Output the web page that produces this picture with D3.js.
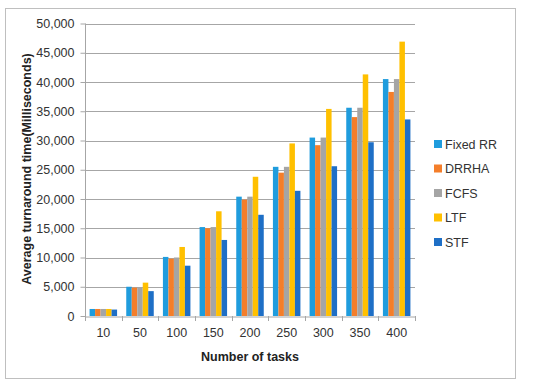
<!DOCTYPE html>
<html><head><meta charset="utf-8">
<script src="https://cdn.jsdelivr.net/npm/d3@7"></script>
<style>body{margin:0;background:#fff}svg{display:block}text{font-family:"Liberation Sans",Arial,sans-serif}</style>
</head><body>
<svg id="c" width="550" height="387"></svg>
<script>
const categories = ["10","50","100","150","200","250","300","350","400"];
const seriesNames = ["Fixed RR","DRRHA","FCFS","LTF","STF"];
const fixedRR = [1200,5000,10100,15200,20400,25500,30500,35600,40500];
const drrha   = [1200,4850,9800,15000,19900,24500,29200,34000,38300];
const fcfs    = [1200,4950,10000,15200,20400,25500,30500,35600,40500];
const ltf     = [1200,5700,11800,17900,23800,29500,35400,41300,46900];
const stf     = [1100,4250,8600,13000,17300,21400,25600,29700,33600];
const yTicks  = [0,5000,10000,15000,20000,25000,30000,35000,40000,45000,50000];
const colors  = ["#1F9CDD","#F47E2A","#A5A5A5","#FFC000","#1E6FC6"];
const series = [fixedRR, drrha, fcfs, ltf, stf];

const svg = d3.select("#c");
svg.append("rect").attr("x",5.5).attr("y",8.5).attr("width",510).attr("height",370)
  .attr("fill","#fff").attr("stroke","#BFBFBF").attr("stroke-width",1);

const m = {l:85, r:415, t:23.5, b:316};
const x0 = d3.scaleBand().domain(categories).range([m.l,m.r]).paddingInner(0.25).paddingOuter(0.125);
const x1 = d3.scaleBand().domain(seriesNames).range([0,x0.bandwidth()]);
const y = d3.scaleLinear().domain([0,50000]).range([m.b,m.t]);

// gridlines
svg.append("g").selectAll("line").data(yTicks.slice(1)).join("line")
  .attr("x1",m.l).attr("x2",m.r).attr("y1",d=>Math.round(y(d))+0.5).attr("y2",d=>Math.round(y(d))+0.5)
  .attr("stroke","#A6A6A6").attr("stroke-width",1);

// y axis
const ya = svg.append("g").attr("transform",`translate(${m.l+0.5},0)`)
  .call(d3.axisLeft(y).tickValues(yTicks).tickSize(5).tickPadding(6).tickFormat(d3.format(",")));
ya.select(".domain").attr("stroke","#A6A6A6").attr("d",`M0,${m.t}V${m.b}`);
ya.selectAll(".tick line").attr("stroke","#A6A6A6");
ya.selectAll(".tick text").attr("font-size",12.5).attr("fill","#333");

// bars
const g = svg.append("g");
categories.forEach((c,i)=>{
  series.forEach((s,j)=>{
    g.append("rect").attr("x",x0(c)+x1(seriesNames[j])).attr("width",x1.bandwidth())
     .attr("y",y(s[i])).attr("height",y(0)-y(s[i])).attr("fill",colors[j]);
  });
});

// x axis
const xa = svg.append("g").attr("transform",`translate(0,${m.b+0.5})`)
  .call(d3.axisBottom(x0).tickSize(0).tickPadding(12));
xa.select(".domain").attr("stroke","#A6A6A6");
xa.selectAll(".tick text").attr("font-size",12.5).attr("fill","#333");
const bounds = categories.map(c=>x0(c)-x0.step()*x0.paddingInner()/2).concat([m.r]);
svg.append("g").selectAll("line").data(bounds).join("line")
  .attr("x1",d=>Math.round(d)+0.5).attr("x2",d=>Math.round(d)+0.5).attr("y1",m.b).attr("y2",m.b+5)
  .attr("stroke","#A6A6A6");

// titles
svg.append("text").attr("x",250).attr("y",361).attr("text-anchor","middle")
  .attr("font-size",12.5).attr("font-weight","bold").attr("fill","#222").text("Number of tasks");
svg.append("text").attr("transform","translate(31,169) rotate(-90)").attr("text-anchor","middle")
  .attr("font-size",12.5).attr("font-weight","bold").attr("fill","#222").text("Average turnaround time(Milliseconds)");

// legend
const lg = svg.append("g");
seriesNames.forEach((n,j)=>{
  const yy = 144 + j*24.5;
  lg.append("rect").attr("x",434).attr("y",yy-4).attr("width",8).attr("height",8).attr("fill",colors[j]);
  lg.append("text").attr("x",445).attr("y",yy+4.5).attr("font-size",12.5).attr("fill","#333").text(n);
});
</script>
</body></html>
